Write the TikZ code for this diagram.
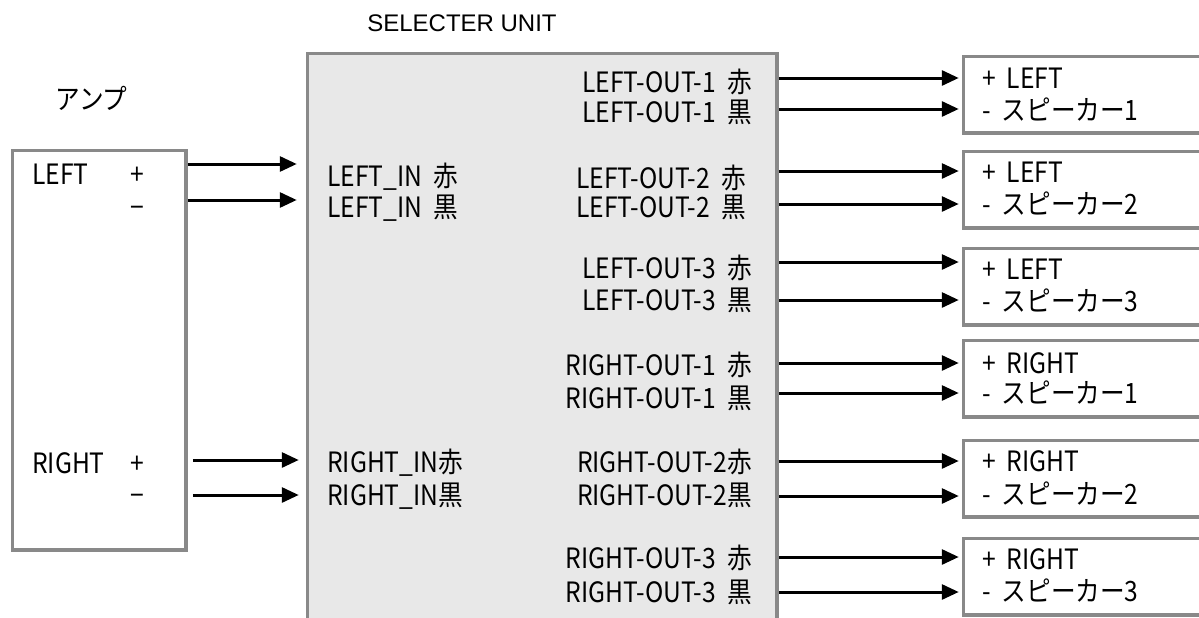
\documentclass[tikz,border=0pt]{standalone}
\usepackage{fontspec}
\newfontfamily\goth{Noto Sans CJK JP}[WordSpace=2, FakeStretch=0.88]
\newfontfamily\arialfont{Liberation Sans}
\usetikzlibrary{arrows.meta}
\definecolor{framegray}{RGB}{137,137,137}
\definecolor{unitfill}{RGB}{232,232,232}
\tikzset{
  frame/.style={draw=framegray, line width=3.5pt, anchor=north west, inner sep=0pt},
  lbl/.style={font=\goth\fontsize{28pt}{32pt}\selectfont, inner sep=0pt, text height=24.4pt, text depth=3.6pt},
  wire/.style={line width=3pt, -{Triangle[length=17pt,width=15pt]}},
}
\begin{document}
\begin{tikzpicture}[x=1pt, y=-1pt]
\clip (0,0) rectangle (1199,618);
% frames
\node[frame, minimum width=173.5pt, minimum height=399.5pt] (amp) at (10.75,148.75) {};
\node[frame, fill=unitfill, minimum width=469.5pt, minimum height=700pt] (sel) at (305.75,51.75) {};
\node[frame, minimum width=260pt, minimum height=76.5pt] (sp1) at (961.75,54.75) {};
\node[frame, minimum width=260pt, minimum height=76.5pt] (sp2) at (961.75,149.75) {};
\node[frame, minimum width=260pt, minimum height=76.5pt] (sp3) at (961.75,246.75) {};
\node[frame, minimum width=260pt, minimum height=76.5pt] (sp4) at (961.75,338.75) {};
\node[frame, minimum width=260pt, minimum height=76.5pt] (sp5) at (961.75,438.75) {};
\node[frame, minimum width=260pt, minimum height=76.5pt] (sp6) at (961.75,536.75) {};
% titles
\node[anchor=base, inner sep=0pt, font=\arialfont\fontsize{24pt}{28pt}\selectfont] (seltitle) at (462,31.6) {SELECTER UNIT};
\node[lbl] (amptitle) at (91.5,99) {アンプ};
% amp labels
\node[lbl, anchor=west] (ampl) at (32,174) {LEFT};
\node[lbl] (amplp) at (137,174) {+};
\node[lbl] (amplm) at (137,207) {−};
\node[lbl, anchor=west] (ampr) at (32,463) {RIGHT};
\node[lbl] (amprp) at (137,463) {+};
\node[lbl] (amprm) at (137,495) {−};
% selector inputs
\node[lbl, anchor=west] (linr) at (327,176) {LEFT\_IN 赤};
\node[lbl, anchor=west] (linb) at (327,207) {LEFT\_IN 黒};
\node[lbl, anchor=west] (rinr) at (327,462) {RIGHT\_IN赤};
\node[lbl, anchor=west] (rinb) at (327,495) {RIGHT\_IN黒};
% selector outputs
\node[lbl, anchor=east] (lo1r) at (752,82) {LEFT-OUT-1 赤};
\node[lbl, anchor=east] (lo1b) at (752,112) {LEFT-OUT-1 黒};
\node[lbl, anchor=east] (lo2r) at (746,178) {LEFT-OUT-2 赤};
\node[lbl, anchor=east] (lo2b) at (746,207) {LEFT-OUT-2 黒};
\node[lbl, anchor=east] (lo3r) at (752,268) {LEFT-OUT-3 赤};
\node[lbl, anchor=east] (lo3b) at (752,300) {LEFT-OUT-3 黒};
\node[lbl, anchor=east] (ro1r) at (752,365) {RIGHT-OUT-1 赤};
\node[lbl, anchor=east] (ro1b) at (752,398) {RIGHT-OUT-1 黒};
\node[lbl, anchor=east] (ro2r) at (752,462) {RIGHT-OUT-2赤};
\node[lbl, anchor=east] (ro2b) at (752,495) {RIGHT-OUT-2黒};
\node[lbl, anchor=east] (ro3r) at (752,558) {RIGHT-OUT-3 赤};
\node[lbl, anchor=east] (ro3b) at (752,592) {RIGHT-OUT-3 黒};
% speaker labels
\node[lbl, anchor=west] (sp1a) at (982,78) {+ LEFT};
\node[lbl, anchor=west] (sp1b) at (982,110) {- スピーカー1};
\node[lbl, anchor=west] (sp2a) at (982,172) {+ LEFT};
\node[lbl, anchor=west] (sp2b) at (982,204) {- スピーカー2};
\node[lbl, anchor=west] (sp3a) at (982,269) {+ LEFT};
\node[lbl, anchor=west] (sp3b) at (982,301) {- スピーカー3};
\node[lbl, anchor=west] (sp4a) at (982,363) {+ RIGHT};
\node[lbl, anchor=west] (sp4b) at (982,393) {- スピーカー1};
\node[lbl, anchor=west] (sp5a) at (982,461) {+ RIGHT};
\node[lbl, anchor=west] (sp5b) at (982,494) {- スピーカー2};
\node[lbl, anchor=west] (sp6a) at (982,559) {+ RIGHT};
\node[lbl, anchor=west] (sp6b) at (982,591) {- スピーカー3};
% amp to selector
\draw[wire, shorten >=9pt] (amp.east |- 0,164) -- (sel.west |- 0,164);
\draw[wire, shorten >=9pt] (amp.east |- 0,200) -- (sel.west |- 0,200);
\draw[wire, shorten <=5pt, shorten >=7pt] (amp.east |- 0,460) -- (sel.west |- 0,460);
\draw[wire, shorten <=5pt, shorten >=7pt] (amp.east |- 0,495) -- (sel.west |- 0,495);
% selector to speakers
\draw[wire, shorten >=3pt] (sel.east |- 0,78) -- (sp1.west |- 0,78);
\draw[wire, shorten >=3pt] (sel.east |- 0,109) -- (sp1.west |- 0,109);
\draw[wire, shorten >=3pt] (sel.east |- 0,171) -- (sp2.west |- 0,171);
\draw[wire, shorten >=3pt] (sel.east |- 0,204) -- (sp2.west |- 0,204);
\draw[wire, shorten >=3pt] (sel.east |- 0,262) -- (sp3.west |- 0,262);
\draw[wire, shorten >=3pt] (sel.east |- 0,300) -- (sp3.west |- 0,300);
\draw[wire, shorten >=3pt] (sel.east |- 0,363) -- (sp4.west |- 0,363);
\draw[wire, shorten >=3pt] (sel.east |- 0,393) -- (sp4.west |- 0,393);
\draw[wire, shorten >=3pt] (sel.east |- 0,461) -- (sp5.west |- 0,461);
\draw[wire, shorten >=3pt] (sel.east |- 0,496) -- (sp5.west |- 0,496);
\draw[wire, shorten >=3pt] (sel.east |- 0,557) -- (sp6.west |- 0,557);
\draw[wire, shorten >=3pt] (sel.east |- 0,592) -- (sp6.west |- 0,592);
\end{tikzpicture}
\end{document}
